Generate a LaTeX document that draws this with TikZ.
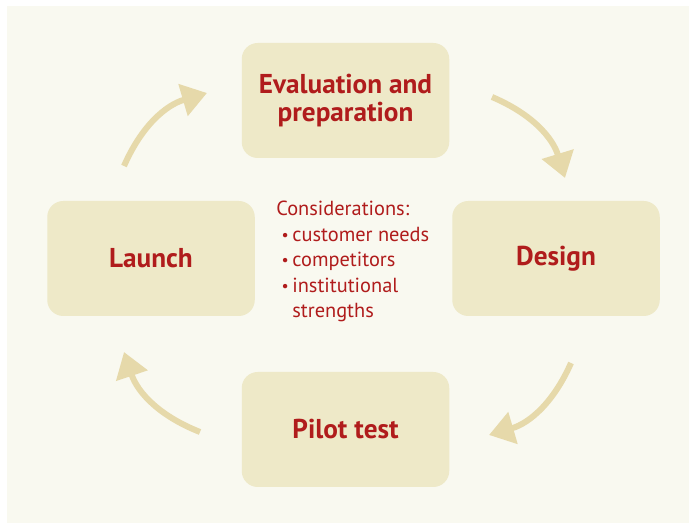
\documentclass[tikz,border=0pt]{standalone}
\usepackage{fontspec}
\setmainfont{PT Sans}
\usetikzlibrary{arrows.meta}
\definecolor{bgcream}{RGB}{249,249,240}
\definecolor{boxfill}{RGB}{238,233,200}
\definecolor{arrowtan}{RGB}{230,217,170}
\definecolor{textred}{RGB}{176,28,28}
\newcommand{\itemdot}{\makebox[0.32cm][r]{\raisebox{0.1ex}{\fontsize{9}{9}\selectfont\textbullet}\hspace{0.07cm}}}
\begin{document}
\begin{tikzpicture}[
  stage/.style={fill=boxfill,rounded corners=0.32cm,minimum width=4.15cm,minimum height=2.3cm,
    text=textred,font=\fontsize{15.5}{15.8}\selectfont\bfseries,align=center},
  cycle/.style={draw=arrowtan,line width=0.12cm,-{Triangle[length=0.5cm,width=0.64cm]},bend left=25}
]
% the frame
\useasboundingbox (0,0) rectangle (13.78,10.46);
\fill[bgcream] (0.14,0) rectangle (13.78,10.34);
% the four stages
\node[stage] (eval) at (6.91,8.45) {Evaluation and\\preparation};
\node[stage] (design) at (11.12,5.29) {Design};
\node[stage] (pilot) at (6.91,1.87) {Pilot test};
\node[stage] (launch) at (3.02,5.29) {Launch};
% what to keep in mind
\node[anchor=north west,inner sep=0pt,text=textred,align=left,font=\fontsize{11.6}{14.5}\selectfont] (notes) at (5.52,6.44)
  {Considerations:\\
   \itemdot customer needs\\
   \itemdot competitors\\
   \itemdot institutional\\
   \hspace{0.32cm}strengths};
% ends of the arrows
\coordinate (launchout) at (2.48,7.14);
\coordinate (evalin) at (4.14,8.60);
\coordinate (evalout) at (9.84,8.52);
\coordinate (designin) at (11.30,6.90);
\coordinate (designout) at (11.42,3.20);
\coordinate (pilotin) at (9.78,1.76);
\coordinate (pilotout) at (4.00,1.82);
\coordinate (launchin) at (2.48,3.42);
% the cycle
\foreach \a/\b in {launchout/evalin,evalout/designin,designout/pilotin,pilotout/launchin}
  \draw[cycle] (\a) to (\b);
\end{tikzpicture}
\end{document}
